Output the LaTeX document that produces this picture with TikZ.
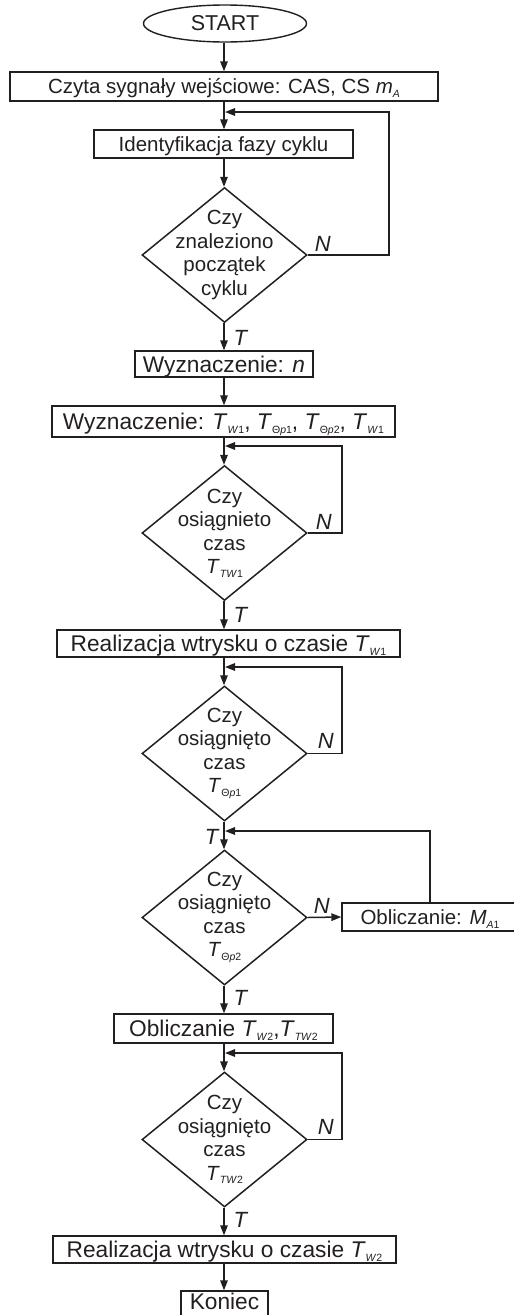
\documentclass[tikz,border=0pt]{standalone}
\usepackage{fontspec}
\setmainfont{Liberation Sans}
\usetikzlibrary{shapes.geometric,arrows.meta}
\definecolor{ink}{RGB}{35,31,32}
% small lowered index used in the time symbols
\newcommand{\lowsub}[1]{\raisebox{-0.35ex}{\fontsize{10.5}{12}\selectfont #1}}

\begin{document}
\begin{tikzpicture}[x=1pt,y=-1pt,
  every node/.style={text=ink},
  proc/.style={draw=ink, line width=1.4pt, rectangle, inner sep=0pt,
    text height=16.3pt, text depth=0pt, font=\fontsize{22.7}{26}\selectfont},
  procs/.style={proc, text height=14.7pt, font=\fontsize{20.5}{24}\selectfont},
  decision/.style={draw=ink, line width=1.5pt, diamond, inner sep=0pt,
    minimum width=165pt, minimum height=135pt},
  dtext/.style={align=center, inner sep=0pt, font=\fontsize{20.5}{23.5}\selectfont},
  flow/.style={draw=ink, line width=1.5pt, -{Triangle[length=10pt,width=7.5pt]}},
  lbl/.style={inner sep=0pt, font=\fontsize{22}{24}\selectfont\itshape}
]
\useasboundingbox (0,0) rectangle (514,1315);
\clip (0,0) rectangle (514,1315);

% main vertical axis
\coordinate (ax) at (224,0);

% blocks
\node[draw=ink, line width=1.4pt, ellipse, inner sep=0pt,
  minimum width=163pt, minimum height=37pt,
  font=\fontsize{21.5}{24}\selectfont] (start) at (225,23.5) {START};
\node[procs, minimum width=428pt, minimum height=29pt] (b1) at (224,86.5)
  {Czyta sygnały wejściowe: CAS, CS \textit{m}\lowsub{\textit{A}}};
\node[procs, minimum width=259pt, minimum height=28pt] (b2) at (223.5,144)
  {Identyfikacja fazy cyklu};
\node[decision] (d1) at (224.5,255) {};
\node[dtext] (d1t) at (d1) {Czy\\znaleziono\\początek\\cyklu};
\node[proc, minimum width=178pt, minimum height=26pt] (b3) at (224,364)
  {Wyznaczenie: \textit{n}};
\node[proc, minimum width=343pt, minimum height=31pt] (b4) at (223.5,421.5)
  {Wyznaczenie: \textit{T}\lowsub{\textit{W}1}, \textit{T}\lowsub{Θ\textit{p}1}, \textit{T}\lowsub{Θ\textit{p}2}, \textit{T}\lowsub{\textit{W}1}};
\node[decision] (d2) at (224.5,533) {};
\node[dtext] (d2t) at (d2) {Czy\\osiągnieto\\czas\\\textit{T}\lowsub{\textit{TW}1}};
\node[proc, minimum width=343pt, minimum height=27pt] (b5) at (228.5,643.5)
  {Realizacja wtrysku o czasie \textit{T}\lowsub{\textit{W}1}};
\node[decision] (d3) at (224.5,753.5) {};
\node[dtext] (d3t) at (d3) {Czy\\osiągnięto\\czas\\\textit{T}\lowsub{Θ\textit{p}1}};
\node[decision] (d4) at (224.5,917.5) {};
\node[dtext] (d4t) at (d4) {Czy\\osiągnięto\\czas\\\textit{T}\lowsub{Θ\textit{p}2}};
\node[procs, minimum width=176pt, minimum height=28pt] (bm) at (430,917)
  {Obliczanie: \textit{M}\lowsub{\textit{A}1}};
\node[proc, minimum width=219pt, minimum height=29pt] (b6) at (223.5,1028.5)
  {Obliczanie \textit{T}\lowsub{\textit{W}2},\textit{T}\lowsub{\textit{TW}2}};
\node[decision] (d5) at (224.5,1139.5) {};
\node[dtext] (d5t) at (d5) {Czy\\osiągnięto\\czas\\\textit{T}\lowsub{\textit{TW}2}};
\node[proc, minimum width=343pt, minimum height=27pt] (b7) at (224.5,1249.5)
  {Realizacja wtrysku o czasie \textit{T}\lowsub{\textit{W}2}};
\node[proc, minimum width=87pt, minimum height=30pt] (fin) at (224.5,1306)
  {\raisebox{5pt}{Koniec}};

% return points on the axis
\coordinate (r1) at (225,112);
\coordinate (r2) at (225,446);
\coordinate (r3) at (225,667);
\coordinate (r4) at (225,831);
\coordinate (r5) at (225,1053);

% main flow
\draw[flow] (start.south -| ax) -- (b1.north -| ax);
\draw[flow] (b1.south -| ax) -- (b2.north -| ax);
\draw[flow] (b2.south -| ax) -- (d1.north -| ax);
\draw[flow] (d1.south -| ax) -- (b3.north -| ax);
\draw[flow] (b3.south -| ax) -- (b4.north -| ax);
\draw[flow] (b4.south -| ax) -- (d2.north -| ax);
\draw[flow] (d2.south -| ax) -- (b5.north -| ax);
\draw[flow] (b5.south -| ax) -- (d3.north -| ax);
\draw[flow] (d3.south -| ax) -- (d4.north -| ax);
\draw[flow] (d4.south -| ax) -- (b6.north -| ax);
\draw[flow] (b6.south -| ax) -- (d5.north -| ax);
\draw[flow] (d5.south -| ax) -- (b7.north -| ax);
\draw[flow] (b7.south -| ax) -- (fin.north -| ax);
\draw[flow] (d4.east) -- (bm.west);

% loops back
\draw[flow] (d1.east) -- ++(81,0) |- (r1);
\draw[flow] (d2.east) -- ++(34,0) |- (r2);
\draw[flow] (d3.east) -- ++(34,0) |- (r3);
\draw[flow] (bm.north) |- (r4);
\draw[flow] (d5.east) -- ++(34,0) |- (r5);

% branch labels
\node[lbl, anchor=south west] (n1) at ([xshift=7pt,yshift=3pt]d1.east) {N};
\node[lbl, anchor=south west] (n2) at ([xshift=8pt,yshift=3pt]d2.east) {N};
\node[lbl, anchor=south west] (n3) at ([xshift=10pt,yshift=5pt]d3.east) {N};
\node[lbl, anchor=south west] (n4) at ([xshift=6pt,yshift=4pt]d4.east) {N};
\node[lbl, anchor=south west] (n5) at ([xshift=10pt,yshift=4.5pt]d5.east) {N};
\node[lbl, anchor=north west] (t1) at ([xshift=9pt,yshift=-7pt]d1.south) {T};
\node[lbl, anchor=north west] (t2) at ([xshift=9pt,yshift=-6pt]d2.south) {T};
\node[lbl, anchor=north east] (t3) at ([xshift=-6pt,yshift=-7pt]d3.south) {T};
\node[lbl, anchor=north west] (t4) at ([xshift=9pt,yshift=-4pt]d4.south) {T};
\node[lbl, anchor=north west] (t5) at ([xshift=9pt,yshift=-4pt]d5.south) {T};
\end{tikzpicture}
\end{document}
